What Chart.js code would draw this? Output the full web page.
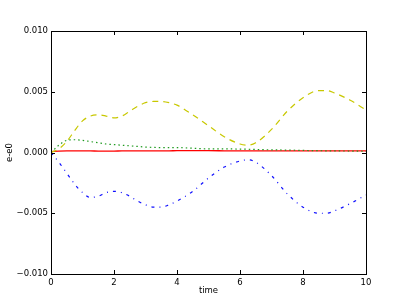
<!DOCTYPE html>
<html>
<head>
<meta charset="utf-8">
<script src="https://cdn.jsdelivr.net/npm/chart.js@4/dist/chart.umd.min.js"></script>
<style>
  body { margin: 0; background: #fff; }
  #wrap { width: 407px; height: 305px; }
</style>
</head>
<body>
<div id="wrap"><canvas id="myChart"></canvas></div>
<script>
// time samples
const time = [0, 0.25, 0.5, 0.75, 1, 1.25, 1.5, 1.75, 2, 2.25, 2.5, 2.75, 3, 3.25, 3.5, 3.75,
  4, 4.5, 5, 5.5, 6, 6.25, 6.5, 7, 7.5, 8, 8.5, 8.75, 9, 9.5, 10];

const yellowDash = [0, 0.0003, 0.0009, 0.0018, 0.0026, 0.0030, 0.0031, 0.0030, 0.00285, 0.0030,
  0.0034, 0.0038, 0.0041, 0.0042, 0.0042, 0.0041, 0.0039, 0.0031, 0.0022, 0.0013, 0.0007,
  0.0006, 0.0008, 0.0019, 0.0034, 0.0045, 0.0051, 0.0051, 0.0049, 0.0043, 0.0035];

const greenDot = [0, 0.0006, 0.001, 0.00105, 0.001, 0.0009, 0.0008, 0.0007, 0.00065, 0.0006,
  0.00055, 0.0005, 0.00045, 0.00042, 0.0004, 0.0004, 0.0004, 0.00035, 0.0003, 0.0003, 0.00028,
  0.00027, 0.00025, 0.00022, 0.0002, 0.00017, 0.00015, 0.00014, 0.00013, 0.00012, 0.0001];

const redSolid = [0.00008, 0.00012, 0.00013, 0.00013, 0.00013, 0.00013, 0.00012, 0.00012, 0.00012,
  0.00013, 0.00013, 0.00014, 0.00014, 0.00014, 0.00014, 0.00014, 0.00015, 0.00015, 0.00015,
  0.00014, 0.00013, 0.00013, 0.00013, 0.00013, 0.00014, 0.00014, 0.00014, 0.00014, 0.00014,
  0.00014, 0.00014];

const blueDashDot = [0, -0.0008, -0.0017, -0.0026, -0.0033, -0.0037, -0.0036, -0.0033, -0.0032,
  -0.0033, -0.0036, -0.0040, -0.0043, -0.0045, -0.0045, -0.0043, -0.0040, -0.0032, -0.0021,
  -0.0012, -0.0007, -0.0006, -0.0008, -0.0019, -0.0034, -0.0045, -0.0050, -0.0050, -0.0048,
  -0.0042, -0.0035];

const xTickLabels = ['0', '2', '4', '6', '8', '10'];
const yTickLabels = ['\u22120.010', '\u22120.005', '0.000', '0.005', '0.010'];

function pts(ys) {
  return time.map((t, i) => ({x: t, y: ys[i]}));
}

Chart.defaults.font.family = '"DejaVu Sans", sans-serif';
Chart.defaults.font.size = 8.5;
Chart.defaults.color = '#000';

// matplotlib style inward ticks on all four sides + frame
const frameTicks = {
  id: 'frameTicks',
  afterDraw(chart) {
    const {ctx, chartArea: a, scales} = chart;
    ctx.save();
    ctx.strokeStyle = '#000';
    ctx.lineWidth = 1;
    ctx.strokeRect(a.left + 0.5, a.top + 0.5, a.right - a.left, a.bottom - a.top);
    ctx.beginPath();
    scales.x.ticks.forEach(t => {
      const px = Math.round(scales.x.getPixelForValue(t.value)) + 0.5;
      ctx.moveTo(px, a.bottom); ctx.lineTo(px, a.bottom - 4);
      ctx.moveTo(px, a.top); ctx.lineTo(px, a.top + 4);
    });
    scales.y.ticks.forEach(t => {
      const py = Math.round(scales.y.getPixelForValue(t.value)) + 0.5;
      ctx.moveTo(a.left, py); ctx.lineTo(a.left + 4, py);
      ctx.moveTo(a.right, py); ctx.lineTo(a.right - 4, py);
    });
    ctx.stroke();
    ctx.restore();
  }
};

const ctx = document.getElementById('myChart').getContext('2d');
const myChart = new Chart(ctx, {
  type: 'line',
  data: {
    datasets: [
      {label: 'y--', data: pts(yellowDash), borderColor: '#c8c800', borderDash: [6, 5], borderWidth: 1.2},
      {label: 'g:', data: pts(greenDot), borderColor: '#1f9a1f', borderDash: [1.5, 3], borderWidth: 1.2},
      {label: 'r', data: pts(redSolid), borderColor: '#ff0000', borderWidth: 1.3},
      {label: 'b-.', data: pts(blueDashDot), borderColor: '#1010ff', borderDash: [3, 5, 1, 5], borderWidth: 1.2}
    ]
  },
  options: {
    responsive: true,
    maintainAspectRatio: false,
    animation: false,
    layout: {padding: {top: 31, right: 41, left: 0, bottom: 0}},
    elements: {
      point: {radius: 0},
      line: {borderWidth: 1, tension: 0.4, cubicInterpolationMode: 'monotone'}
    },
    plugins: {legend: {display: false}, tooltip: {enabled: false}},
    scales: {
      x: {
        type: 'linear', min: 0, max: 10,
        grid: {display: false, drawTicks: false},
        border: {display: false},
        ticks: {stepSize: 2, padding: 4, maxRotation: 0,
          callback: (v, i) => xTickLabels[i]},
        title: {display: true, text: 'time', padding: {top: 0, bottom: 9}},
        afterFit: s => { s.height = 31; }
      },
      y: {
        min: -0.01, max: 0.01,
        grid: {display: false, drawTicks: false},
        border: {display: false},
        ticks: {stepSize: 0.005, padding: 3,
          callback: (v, i) => yTickLabels[i]},
        title: {display: true, text: 'e-e0', padding: {top: 5, bottom: 0}},
        afterFit: s => { s.width = 51; }
      }
    }
  },
  plugins: [frameTicks]
});
</script>
</body>
</html>
